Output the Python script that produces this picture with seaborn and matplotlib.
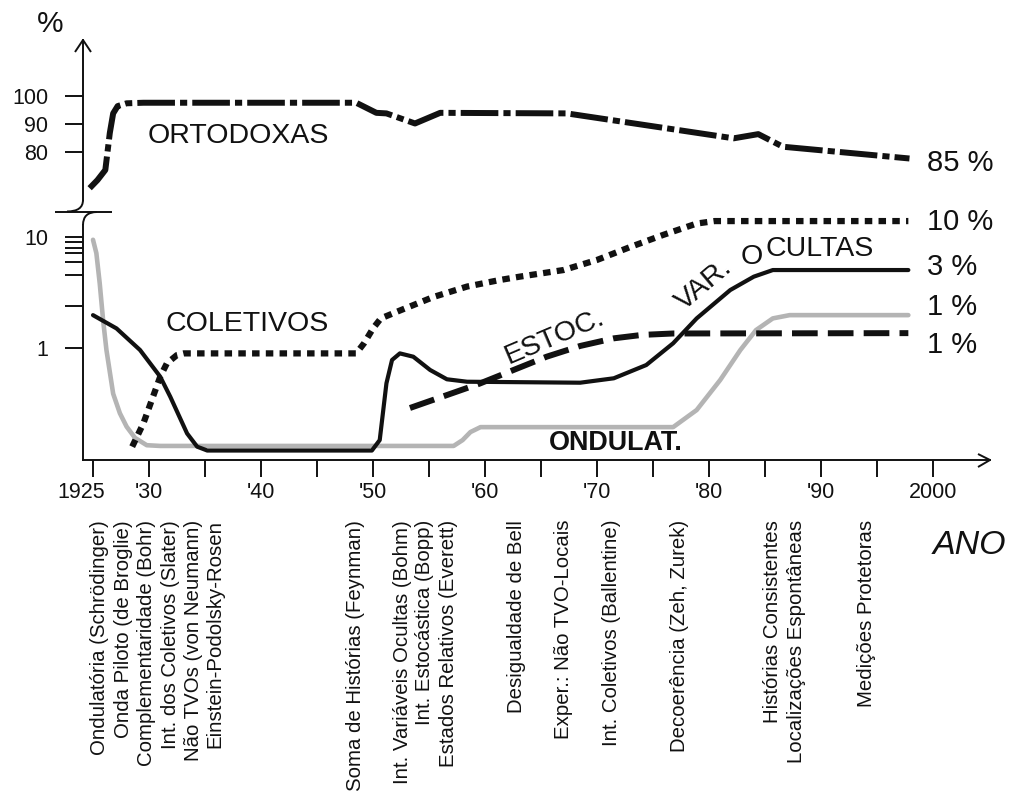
import matplotlib
matplotlib.use("Agg")
import matplotlib.pyplot as plt
from matplotlib.lines import Line2D
from matplotlib.path import Path
from matplotlib.patches import PathPatch
from matplotlib.ticker import FixedLocator, NullFormatter
from matplotlib.transforms import ScaledTranslation
import seaborn as sns

# ---- data (year, % of physicists) ----
orto_years = [1924.7, 1925.4, 1926.1, 1926.5, 1926.8, 1927.2, 1928.0, 1929.5, 1948.5,
              1950.3, 1951.2, 1953.75, 1956.0, 1967.3, 1982.2, 1984.4, 1986.6, 1997.9]
orto_vals = [67.0, 69.9, 73.5, 86.7, 93.7, 96.3, 97.3, 97.5, 97.5,
             93.9, 93.7, 90.1, 93.9, 93.7, 84.8, 86.3, 81.8, 77.6]

col_years = [1928.5, 1929.5, 1931.0, 1931.6, 1932.5, 1933.1, 1948.5, 1949.2, 1950.0, 1950.7,
             1952.5, 1955.4, 1958.4, 1961.3, 1963.1, 1967.0, 1970.0, 1973.0, 1975.9, 1978.9,
             1980.5, 1997.8]
col_vals = [0.130, 0.211, 0.555, 0.733, 0.87, 0.90, 0.90, 1.11, 1.51, 1.86,
            2.21, 2.9, 3.6, 4.12, 4.42, 5.07, 6.25, 8.2, 10.5, 13.3,
            14.0, 14.0]

ocu_years = [1925.0, 1927.1, 1929.2, 1931.0, 1931.9, 1933.4, 1934.3, 1935.2, 1949.9, 1950.6,
             1951.2, 1951.7, 1952.4, 1953.6, 1955.1, 1956.6, 1958.4, 1968.5, 1971.5, 1974.4,
             1976.8, 1978.9, 1981.9, 1984.0, 1985.7, 1997.8]
ocu_vals = [1.99, 1.51, 0.965, 0.555, 0.366, 0.171, 0.130, 0.120, 0.120, 0.149,
            0.484, 0.785, 0.90, 0.84, 0.638, 0.526, 0.50, 0.49, 0.537, 0.707,
            1.11, 1.86, 3.35, 4.42, 5.07, 5.07]

ond_years = [1925.0, 1925.3, 1925.6, 1925.9, 1926.2, 1926.8, 1927.4, 1928.0, 1928.75, 1929.8,
             1931.0, 1957.2, 1958.0, 1958.7, 1959.6, 1976.8, 1978.9, 1981.0, 1982.8, 1984.2,
             1985.7, 1987.2, 1997.8]
ond_vals = [9.5, 7.2, 3.85, 1.8, 0.965, 0.39, 0.26, 0.197, 0.156, 0.134,
            0.132, 0.132, 0.149, 0.176, 0.195, 0.195, 0.278, 0.518, 0.965, 1.46,
            1.86, 1.99, 1.99]

est_years = [1953.3, 1959.5, 1965.5, 1968.5, 1971.5, 1974.0, 1976.8, 1997.8]
est_vals = [0.29, 0.48, 0.84, 1.05, 1.23, 1.32, 1.36, 1.37]

end_labels = ["85 %", "10 %", "3 %", "1 %", "1 %"]

event_labels = [
    "Ondulatória (Schrödinger)", "Onda Piloto (de Broglie)", "Complementaridade (Bohr)",
    "Int. dos Coletivos (Slater)", "Não TVOs (von Neumann)", "Einstein-Podolsky-Rosen",
    "Soma de Histórias (Feynman)", "Int. Variáveis Ocultas (Bohm)", "Int. Estocástica (Bopp)",
    "Estados Relativos (Everett)", "Desigualdade de Bell", "Exper.: Não TVO-Locais",
    "Int. Coletivos (Ballentine)", "Decoerência (Zeh, Zurek)", "Histórias Consistentes",
    "Localizações Espontâneas", "Medições Protetoras",
]
event_years = [1925.6, 1927.7, 1929.8, 1931.9, 1934.0, 1935.9, 1948.4, 1952.6, 1954.6,
               1956.7, 1962.8, 1967.0, 1971.3, 1977.4, 1985.7, 1987.8, 1994.1]

xticks = list(range(1925, 2001, 5))
xtick_labels = {1925: "1925", 1930: "'30", 1940: "'40", 1950: "'50", 1960: "'60",
                1970: "'70", 1980: "'80", 1990: "'90", 2000: "2000"}

# ---- style ----
sns.set_style("ticks")
plt.rcParams["font.family"] = ["Liberation Sans", "DejaVu Sans"]
INK = "#111111"
W, H = 1010, 797


def px(x, y):
    return x / W, 1 - y / H


fig = plt.figure(figsize=(10.1, 7.97), dpi=100)
ax_top = fig.add_axes([83 / W, 1 - 212 / H, 907 / W, 172 / H])
ax_bot = fig.add_axes([83 / W, 1 - 460 / H, 907 / W, 248 / H])

x_lo, x_hi = 1924.107, 2005.09
spine_w = 1.4

# top panel: orthodox interpretations (linear)
sns.lineplot(x=orto_years, y=orto_vals, ax=ax_top, color=INK, lw=4.3,
             linestyle=(0, (6.3, 0.85, 1.2, 0.85)), dash_capstyle="butt")
ax_top.set_xlim(x_lo, x_hi)
ax_top.set_ylim(58.5, 119.9)
ax_top.set_yticks([80, 90, 100])
ax_top.set_xticks([])
for s in ["top", "right", "bottom"]:
    ax_top.spines[s].set_visible(False)
ax_top.spines["left"].set_bounds(62.75, 119.9)

# bottom panel: minority interpretations (log)
sns.lineplot(x=ond_years, y=ond_vals, ax=ax_bot, color="#b4b4b4", lw=3.3)
sns.lineplot(x=col_years, y=col_vals, ax=ax_bot, color=INK, lw=4.5,
             linestyle=(0, (1.2, 1.0)), dash_capstyle="butt")
sns.lineplot(x=est_years, y=est_vals, ax=ax_bot, color=INK, lw=4.3,
             linestyle=(0, (4.3, 1.7)), dash_capstyle="butt")
sns.lineplot(x=ocu_years, y=ocu_vals, ax=ax_bot, color=INK, lw=3.0)
ax_bot.set_yscale("log")
ax_bot.set_xlim(x_lo, x_hi)
ax_bot.set_ylim(0.0986, 16.9)
ax_bot.yaxis.set_major_locator(FixedLocator([1, 10]))
ax_bot.set_yticklabels(["1", "10"])
ax_bot.yaxis.set_minor_locator(FixedLocator([2.4, 4.6, 6, 7.2, 8, 9]))
ax_bot.yaxis.set_minor_formatter(NullFormatter())
ax_bot.set_xticks(xticks)
ax_bot.set_xticklabels([xtick_labels.get(t, "") for t in xticks])
for s in ["top", "right"]:
    ax_bot.spines[s].set_visible(False)
ax_bot.spines["left"].set_bounds(0.0986, 12.9)

for ax in (ax_top, ax_bot):
    ax.set_xlabel("")
    ax.set_ylabel("")
    ax.patch.set_alpha(0)
    for s in ax.spines.values():
        s.set_linewidth(spine_w)
        s.set_color(INK)
    ax.tick_params(axis="y", which="both", length=13, width=spine_w, pad=12,
                   labelsize=15.5, colors=INK)
    ax.tick_params(axis="x", length=12, width=spine_w, pad=4, labelsize=15.5, colors=INK)

# the "1925" label sits a little left of its tick in the original
first = ax_bot.get_xticklabels()[0]
first.set_transform(first.get_transform() + ScaledTranslation(-0.12, 0, fig.dpi_scale_trans))

# series names
lab = dict(fontsize=20.5, color=INK, ha="center", va="center")
ax_top.text(1937.95, 85.6, "ORTODOXAS", **lab)
ax_bot.text(1938.8, 1.655, "COLETIVOS", **lab)
ax_bot.text(1971.7, 0.140, "ONDULAT.", fontsize=19.4, fontweight="bold", color=INK,
            ha="center", va="center")
ax_bot.text(1966.25, 1.26, "ESTOC.", rotation=23, rotation_mode="anchor", **lab)
ax_bot.text(1979.6, 3.75, "VAR.", rotation=40, rotation_mode="anchor", **lab)
ax_bot.text(1983.8, 6.64, "O", **lab)
ax_bot.text(1989.85, 7.85, "CULTAS", **lab)

# end values
end_x = 1999.46
ax_top.text(end_x, 76.0, end_labels[0], fontsize=21, color=INK, ha="left", va="center")
for txt, yv in zip(end_labels[1:], [13.8, 5.43, 2.37, 1.07]):
    ax_bot.text(end_x, yv, txt, fontsize=21, color=INK, ha="left", va="center")

# events under the time axis
for txt, yr in zip(event_labels, event_years):
    ax_bot.text(yr, -0.2419, txt, transform=ax_bot.get_xaxis_transform(), rotation=90,
                ha="center", va="top", fontsize=14.7, color=INK)

fig.text(*px(50, 24), "%", fontsize=21.5, color=INK, ha="center", va="center")
fig.text(*px(969, 546), "ANO", fontsize=24.5, style="italic", color=INK,
         ha="center", va="center")

# arrow heads and axis break
for pts in ([(75, 52), (83, 40), (91, 52)], [(978, 454), (990, 460), (978, 467)],
            [(55, 211.5), (112, 211.5)]):
    xs, ys = zip(*[px(*p) for p in pts])
    fig.add_artist(Line2D(xs, ys, color=INK, lw=spine_w, solid_capstyle="butt"))
for p0, c, p1 in (((83, 200), (83, 211.5), (67, 211.5)), ((83, 225), (83, 212), (97, 212))):
    path = Path([px(*p0), px(*c), px(*p1)], [Path.MOVETO, Path.CURVE3, Path.CURVE3])
    fig.add_artist(PathPatch(path, fc="none", ec=INK, lw=spine_w, transform=fig.transFigure))

fig.savefig("out.png", dpi=100)
